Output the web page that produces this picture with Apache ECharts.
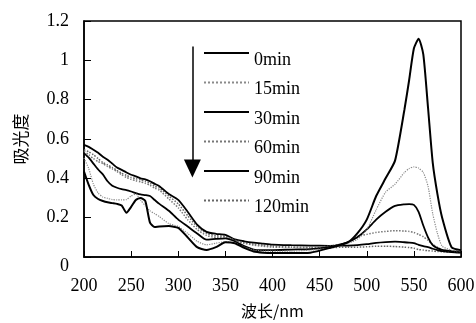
<!DOCTYPE html>
<html>
<head>
<meta charset="utf-8">
<script src="https://cdn.jsdelivr.net/npm/echarts@6/dist/echarts.min.js"></script>
<style>html,body{margin:0;padding:0;background:#fff;}#c{width:476px;height:323px;}</style>
</head>
<body>
<div id="c"></div>
<script>
var wavelengths = [200,205,210,215,220,225,230,235,240,245,250,255,260,265,270,275,280,290,300,310,320,330,340,350,360,370,380,390,400,420,440,460,480,490,500,510,520,530,540,545,550,555,560,565,570,575,580,590,600];
var seriesNames = ['0min','15min','30min','60min','90min','120min'];
var abs0 = [0.435,0.367,0.315,0.295,0.285,0.278,0.274,0.27,0.262,0.225,0.255,0.29,0.30,0.285,0.175,0.152,0.155,0.157,0.148,0.10,0.05,0.036,0.05,0.075,0.07,0.046,0.028,0.022,0.02,0.02,0.022,0.045,0.075,0.12,0.19,0.31,0.40,0.49,0.75,0.90,1.06,1.11,1.03,0.76,0.48,0.32,0.20,0.05,0.035];
var abs15 = [0.503,0.45,0.37,0.325,0.305,0.298,0.292,0.29,0.29,0.292,0.31,0.32,0.29,0.26,0.235,0.22,0.205,0.17,0.155,0.12,0.08,0.062,0.07,0.078,0.07,0.05,0.036,0.03,0.03,0.03,0.035,0.045,0.07,0.09,0.14,0.24,0.33,0.37,0.43,0.45,0.458,0.452,0.43,0.36,0.22,0.12,0.055,0.035,0.03];
var abs30 = [0.528,0.505,0.475,0.445,0.42,0.385,0.362,0.352,0.345,0.34,0.333,0.325,0.318,0.315,0.31,0.29,0.27,0.235,0.19,0.155,0.12,0.088,0.092,0.095,0.08,0.055,0.038,0.035,0.035,0.038,0.04,0.05,0.075,0.1,0.14,0.19,0.23,0.26,0.268,0.269,0.265,0.23,0.16,0.10,0.06,0.045,0.036,0.03,0.025];
var abs60 = [0.537,0.52,0.5,0.485,0.475,0.46,0.448,0.435,0.418,0.405,0.395,0.388,0.382,0.375,0.365,0.35,0.34,0.295,0.25,0.19,0.14,0.11,0.1,0.102,0.085,0.07,0.06,0.055,0.05,0.05,0.05,0.055,0.075,0.105,0.115,0.125,0.13,0.134,0.132,0.13,0.125,0.115,0.103,0.085,0.063,0.05,0.036,0.03,0.025];
var abs90 = [0.57,0.56,0.545,0.53,0.51,0.495,0.475,0.455,0.443,0.43,0.418,0.41,0.40,0.395,0.385,0.372,0.36,0.32,0.29,0.23,0.165,0.128,0.118,0.113,0.09,0.08,0.073,0.068,0.063,0.06,0.058,0.057,0.058,0.06,0.065,0.072,0.076,0.078,0.075,0.073,0.07,0.062,0.055,0.05,0.042,0.035,0.03,0.025,0.022];
var abs120 = [0.545,0.535,0.52,0.5,0.48,0.468,0.455,0.44,0.426,0.415,0.405,0.398,0.392,0.385,0.375,0.36,0.35,0.31,0.27,0.21,0.155,0.12,0.108,0.105,0.085,0.072,0.065,0.06,0.055,0.05,0.048,0.048,0.05,0.05,0.052,0.055,0.055,0.053,0.05,0.048,0.045,0.038,0.035,0.032,0.03,0.028,0.027,0.025,0.022];
var xTicks = {min:200, max:600, interval:50};
var yTicks = {min:0, max:1.2, interval:0.2};

var allValues = [abs0, abs15, abs30, abs60, abs90, abs120];
var styles = [
  {color:'#000', width:2, type:'solid'},
  {color:'#8a8a8a', width:1.2, type:'dotted'},
  {color:'#000', width:1.8, type:'solid'},
  {color:'#777', width:1.5, type:'dotted'},
  {color:'#000', width:1.8, type:'solid'},
  {color:'#666', width:1.5, type:'dotted'}
];
function pairs(vals){ return wavelengths.map(function(w,i){ return [w, vals[i]]; }); }

var series = seriesNames.map(function(n, i){
  var s = {
    name: n, type: 'line', data: pairs(allValues[i]), symbol: 'none', showSymbol: false,
    smooth: 0.2, lineStyle: styles[i], itemStyle: {color: styles[i].color}, z: 10 - i
  };
  if (i === 0) {
    s.markLine = {
      silent: true, symbol: ['none','triangle'], symbolSize: [17, 18],
      label: {show: false},
      lineStyle: {color:'#000', width:1.5, type:'solid'},
      data: [[{coord:[315, 1.07]}, {coord:[315, 0.45]}]]
    };
  }
  return s;
});

var serif = 'Liberation Serif, Times New Roman, serif';
var cjk = 'Noto Sans CJK SC, sans-serif';
var chart = echarts.init(document.getElementById('c'), null, {renderer:'canvas'});
chart.setOption({
  backgroundColor: '#fff',
  animation: false,
  grid: {left: 84, right: 15, top: 21, bottom: 66, show: true, borderColor: '#000', borderWidth: 1.5, backgroundColor: 'transparent', containLabel: false, outerBoundsMode: 'none'},
  legend: {
    data: seriesNames, orient: 'vertical', left: 198, top: 32, itemWidth: 45, itemHeight: 14, itemGap: -2.5,
    itemStyle: {opacity: 0},
    formatter: function(n){ return '\n' + n; },
    textStyle: {fontFamily: serif, fontSize: 18, color: '#000', lineHeight: 14},
    selectedMode: false
  },
  xAxis: {
    type: 'value', min: xTicks.min, max: xTicks.max, interval: xTicks.interval,
    name: '波长/nm', nameLocation: 'middle', nameGap: 46,
    nameTextStyle: {fontFamily: cjk, fontSize: 16, color: '#000'},
    axisLine: {show: true, lineStyle: {color: '#000', width: 1.5}},
    axisTick: {show: true, inside: true, length: 6, lineStyle: {color: '#000'}},
    axisLabel: {fontFamily: serif, fontSize: 18, color: '#000', margin: 20},
    splitLine: {show: false}
  },
  yAxis: {
    type: 'value', min: yTicks.min, max: yTicks.max, interval: yTicks.interval,
    name: '吸光度', nameLocation: 'middle', nameGap: 55, nameRotate: 90,
    nameTextStyle: {fontFamily: cjk, fontSize: 17, color: '#000'},
    axisLine: {show: true, lineStyle: {color: '#000', width: 1.5}},
    axisTick: {show: true, inside: true, length: 7, lineStyle: {color: '#000'}},
    axisLabel: {
      fontFamily: serif, fontSize: 18, color: '#000', margin: 15,
      formatter: function(v){ return v === 0 ? '{z|0}' : String(Math.round(v*10)/10); },
      rich: {z: {fontFamily: serif, fontSize: 18, color: '#000', padding: [18, 0, 0, 0]}}
    },
    splitLine: {show: false}
  },
  series: series
});
</script>
</body>
</html>
